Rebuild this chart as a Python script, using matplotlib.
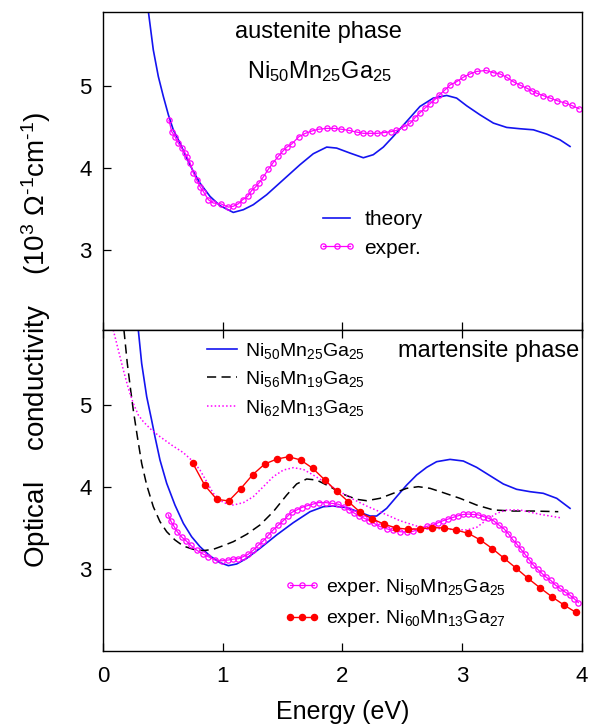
import matplotlib
matplotlib.use("Agg")
import matplotlib.pyplot as plt

plt.rcParams['font.family'] = ['Liberation Sans', 'DejaVu Sans']
plt.rcParams['mathtext.fontset'] = 'custom'
plt.rcParams['mathtext.rm'] = 'Liberation Sans'
plt.rcParams['mathtext.it'] = 'Liberation Sans'
plt.rcParams['mathtext.default'] = 'regular'

# austenite phase, theory
aus_th_e = [0.379, 0.420, 0.462, 0.504, 0.546, 0.587, 0.643, 0.699, 0.754, 0.810, 0.894, 0.977, 1.088,
            1.172, 1.255, 1.367, 1.506, 1.645, 1.756, 1.868, 1.951, 2.063, 2.174, 2.257, 2.341, 2.424,
            2.536, 2.647, 2.758, 2.870, 2.953, 3.037, 3.148, 3.260, 3.371, 3.482, 3.594, 3.705, 3.816,
            3.900]
aus_th_s = [5.906, 5.439, 5.114, 4.870, 4.646, 4.463, 4.301, 4.118, 3.955, 3.813, 3.650, 3.537, 3.455,
            3.488, 3.549, 3.671, 3.854, 4.037, 4.171, 4.252, 4.240, 4.179, 4.122, 4.159, 4.252, 4.382,
            4.565, 4.748, 4.850, 4.882, 4.850, 4.756, 4.646, 4.545, 4.492, 4.476, 4.463, 4.411, 4.341,
            4.260]

# austenite phase, experiment
aus_ex_e = [0.551, 0.574, 0.601, 0.629, 0.657, 0.685, 0.704, 0.727, 0.754, 0.782, 0.81, 0.838, 0.88,
            0.921, 0.983, 1.047, 1.088, 1.13, 1.166, 1.208, 1.24, 1.27, 1.306, 1.34, 1.38, 1.42, 1.464,
            1.50, 1.534, 1.576, 1.637, 1.69, 1.748, 1.80, 1.868, 1.93, 1.99, 2.057, 2.118, 2.174, 2.23,
            2.29, 2.35, 2.405, 2.45, 2.514, 2.564, 2.605, 2.647, 2.69, 2.73, 2.77, 2.81, 2.856, 2.898,
            2.953, 3.01, 3.065, 3.12, 3.198, 3.26, 3.315, 3.37, 3.426, 3.48, 3.54, 3.58, 3.62, 3.677,
            3.733, 3.789, 3.858, 3.914, 3.975]
aus_ex_s = [4.58, 4.44, 4.38, 4.30, 4.24, 4.18, 4.13, 4.06, 3.94, 3.85, 3.77, 3.71, 3.61,
            3.57, 3.56, 3.52, 3.53, 3.56, 3.61, 3.65, 3.72, 3.76, 3.82, 3.89, 3.98, 4.06, 4.14,
            4.20, 4.25, 4.29, 4.38, 4.42, 4.45, 4.47, 4.48, 4.48, 4.47, 4.455, 4.435, 4.42, 4.42,
            4.42, 4.43, 4.44, 4.455, 4.50, 4.54, 4.61, 4.67, 4.73, 4.78, 4.83, 4.89, 4.95, 5.01,
            5.05, 5.105, 5.145, 5.175, 5.187, 5.16, 5.145, 5.105, 5.05, 5.01, 4.97, 4.94, 4.91, 4.88,
            4.85, 4.82, 4.79, 4.76, 4.72]

# martensite phase, theory Ni50Mn25Ga25
m50_e = [0.295, 0.323, 0.365, 0.406, 0.434, 0.476, 0.532, 0.601, 0.671, 0.740, 0.810, 0.894, 0.977,
         1.047, 1.116, 1.200, 1.311, 1.450, 1.589, 1.729, 1.840, 1.923, 2.035, 2.146, 2.230, 2.285,
         2.369, 2.452, 2.536, 2.619, 2.703, 2.786, 2.898, 3.009, 3.120, 3.232, 3.343, 3.454, 3.566,
         3.677, 3.789, 3.900]
m50_s = [5.915, 5.508, 5.102, 4.817, 4.614, 4.329, 4.045, 3.780, 3.557, 3.394, 3.272, 3.159, 3.077,
         3.041, 3.061, 3.130, 3.252, 3.415, 3.565, 3.699, 3.760, 3.768, 3.748, 3.691, 3.646, 3.646,
         3.740, 3.882, 4.024, 4.146, 4.240, 4.309, 4.337, 4.317, 4.240, 4.138, 4.037, 3.972, 3.943,
         3.923, 3.862, 3.740]

# martensite phase, theory Ni56Mn19Ga25
m56_e = [0.175, 0.203, 0.231, 0.253, 0.287, 0.323, 0.365, 0.420, 0.476, 0.532, 0.601, 0.671, 0.754,
         0.838, 0.921, 1.005, 1.088, 1.200, 1.311, 1.422, 1.534, 1.617, 1.701, 1.784, 1.896, 2.007,
         2.118, 2.202, 2.313, 2.424, 2.536, 2.633, 2.731, 2.842, 2.981, 3.120, 3.260, 3.427, 3.594,
         3.802]
m56_s = [5.915, 5.508, 5.183, 4.939, 4.614, 4.289, 4.024, 3.760, 3.577, 3.455, 3.354, 3.280, 3.240,
         3.224, 3.240, 3.285, 3.333, 3.423, 3.537, 3.699, 3.902, 4.037, 4.098, 4.085, 4.004, 3.911,
         3.850, 3.833, 3.862, 3.923, 3.984, 4.004, 3.984, 3.931, 3.862, 3.780, 3.720, 3.707, 3.707,
         3.699]

# martensite phase, theory Ni62Mn13Ga25
m62_e = [0.086, 0.128, 0.170, 0.212, 0.253, 0.295, 0.337, 0.406, 0.476, 0.573, 0.671, 0.754, 0.810,
         0.866, 0.921, 1.005, 1.088, 1.172, 1.255, 1.339, 1.422, 1.506, 1.589, 1.673, 1.756, 1.868,
         1.979, 2.090, 2.202, 2.341, 2.480, 2.619, 2.759, 2.898, 3.037, 3.120, 3.204, 3.287, 3.371,
         3.482, 3.649, 3.816]
m62_s = [5.915, 5.671, 5.427, 5.203, 5.020, 4.878, 4.797, 4.695, 4.614, 4.512, 4.419, 4.309, 4.207,
         4.065, 3.923, 3.809, 3.780, 3.809, 3.882, 4.004, 4.126, 4.207, 4.236, 4.215, 4.146, 4.045,
         3.943, 3.850, 3.768, 3.679, 3.589, 3.524, 3.496, 3.484, 3.476, 3.508, 3.598, 3.679, 3.720,
         3.720, 3.667, 3.626]

# martensite phase, experiment Ni50Mn25Ga25
mex50_e = [0.546, 0.568, 0.593, 0.62, 0.657, 0.693, 0.732, 0.782, 0.838, 0.88, 0.935, 0.991, 1.047,
           1.088, 1.13, 1.17, 1.213, 1.255, 1.297, 1.34, 1.38, 1.42, 1.464, 1.506, 1.542, 1.576,
           1.618, 1.66, 1.70, 1.75, 1.80, 1.86, 1.915, 1.965, 2.015, 2.057, 2.10, 2.14, 2.18, 2.224,
           2.266, 2.31, 2.37, 2.424, 2.48, 2.536, 2.59, 2.647, 2.703, 2.753, 2.80, 2.842, 2.884,
           2.925, 2.967, 3.01, 3.05, 3.09, 3.134, 3.176, 3.217, 3.265, 3.307, 3.349, 3.385, 3.42,
           3.455, 3.488, 3.524, 3.56, 3.593, 3.63, 3.663, 3.70, 3.74, 3.777, 3.816, 3.858, 3.90,
           3.933, 3.97]
mex50_s = [3.66, 3.58, 3.52, 3.455, 3.39, 3.345, 3.29, 3.23, 3.18, 3.15, 3.11, 3.10, 3.11,
           3.12, 3.125, 3.15, 3.18, 3.23, 3.29, 3.345, 3.41, 3.475, 3.535, 3.59, 3.645, 3.69,
           3.72, 3.75, 3.77, 3.79, 3.81, 3.81, 3.80, 3.79, 3.76, 3.72, 3.68, 3.645, 3.62, 3.59,
           3.555, 3.52, 3.49, 3.47, 3.455, 3.45, 3.46, 3.49, 3.52, 3.535, 3.565, 3.59, 3.61,
           3.63, 3.65, 3.665, 3.67, 3.665, 3.66, 3.64, 3.62, 3.585, 3.535, 3.49, 3.43, 3.36,
           3.305, 3.245, 3.18, 3.11, 3.05, 2.995, 2.95, 2.90, 2.86, 2.805, 2.765, 2.72, 2.68,
           2.64, 2.59]

# martensite phase, experiment Ni60Mn13Ga27
mex60_e = [0.75, 0.85, 0.95, 1.05, 1.15, 1.25, 1.35, 1.45, 1.55, 1.65, 1.75, 1.85, 1.95, 2.05, 2.15,
           2.25, 2.35, 2.45, 2.55, 2.65, 2.75, 2.85, 2.95, 3.05, 3.15, 3.25, 3.35, 3.45, 3.55, 3.65,
           3.75, 3.85, 3.95]
mex60_s = [4.29, 4.02, 3.85, 3.83, 3.98, 4.15, 4.28, 4.34, 4.37, 4.33, 4.23, 4.09, 3.95, 3.82, 3.69,
           3.61, 3.545, 3.50, 3.485, 3.49, 3.505, 3.50, 3.475, 3.435, 3.355, 3.25, 3.13, 3.01, 2.885, 2.77,
           2.66, 2.56, 2.47]

y_ticks = [3, 4, 5]
x_ticks = [0, 1, 2, 3, 4]

fig = plt.figure(figsize=(5.96, 7.25), dpi=100)
ax1 = fig.add_axes([0.1728, 0.5448, 0.8037, 0.4386])
ax2 = fig.add_axes([0.1728, 0.1021, 0.8037, 0.4427])

blue = '#1414f0'
mag = '#ff00ff'

ax1.plot(aus_th_e, aus_th_s, color=blue, lw=1.2, label='theory')
ax1.plot(aus_ex_e, aus_ex_s, color=mag, lw=0.9, marker='o', ms=3.8, mfc='none', mew=0.9,
         label='exper.')
ax1.text(1.80, 5.66, 'austenite phase', fontsize=17, ha='center', va='center')
ax1.text(1.81, 5.17, r'Ni$_{50}$Mn$_{25}$Ga$_{25}$', fontsize=17, ha='center', va='center')
ax1.legend(loc='upper left', bbox_to_anchor=(0.447, 0.377), frameon=False, fontsize=15,
           handlelength=1.9, handletextpad=0.36, labelspacing=0.45, borderpad=0, borderaxespad=0,
           numpoints=3)

l1, = ax2.plot(m50_e, m50_s, color=blue, lw=1.2)
l2, = ax2.plot(m56_e, m56_s, color='black', lw=1.1, ls=(0, (6, 3.5)))
l3, = ax2.plot(m62_e, m62_s, color=mag, lw=1.1, ls=(0, (1, 1.5)))
l4, = ax2.plot(mex50_e, mex50_s, color=mag, lw=0.9, marker='o', ms=3.8, mfc='none', mew=0.9)
l5, = ax2.plot(mex60_e, mex60_s, color='#ff0000', lw=1.0, marker='o', ms=4.4)
ax2.text(3.98, 5.66, 'martensite phase', fontsize=17, ha='right', va='center')

leg1 = ax2.legend([l1, l2, l3], [r'Ni$_{50}$Mn$_{25}$Ga$_{25}$', r'Ni$_{56}$Mn$_{19}$Ga$_{25}$',
                                  r'Ni$_{62}$Mn$_{13}$Ga$_{25}$'],
                  loc='upper left', bbox_to_anchor=(0.218, 0.966), frameon=False, fontsize=14,
                  handlelength=1.5, handletextpad=0.45, labelspacing=0.43, borderpad=0, borderaxespad=0)
ax2.add_artist(leg1)
ax2.legend([l4, l5], [r'exper. Ni$_{50}$Mn$_{25}$Ga$_{25}$', r'exper. Ni$_{60}$Mn$_{13}$Ga$_{27}$'],
           loc='upper left', bbox_to_anchor=(0.378, 0.232), frameon=False, fontsize=14,
           handlelength=1.85, handletextpad=0.31, labelspacing=0.56, borderpad=0, borderaxespad=0,
           numpoints=3)

ax1.set_xlim(0, 4)
ax1.set_ylim(2.02, 5.9)
ax2.set_xlim(0, 4)
ax2.set_ylim(2.0, 5.915)

for ax in (ax1, ax2):
    ax.set_yticks(y_ticks)
    ax.set_xticks(x_ticks)
    ax.tick_params(direction='in', length=6, width=0.9, labelsize=16)
    ax.tick_params(axis='y', pad=8)
    for s in ax.spines.values():
        s.set_linewidth(1.0)

ax1.tick_params(axis='x', labelbottom=False)
ax2.tick_params(axis='x', top=True, pad=11)
ax2.set_xlabel('Energy (eV)', fontsize=18, labelpad=9)

fig.text(0.06, 0.532, 'Optical    conductivity    (10$^3$ Ω$^{\u2010 1}$cm$^{\u2010 1}$)', fontsize=20,
         rotation=90, ha='center', va='center')

fig.savefig('out.png', dpi=100)
